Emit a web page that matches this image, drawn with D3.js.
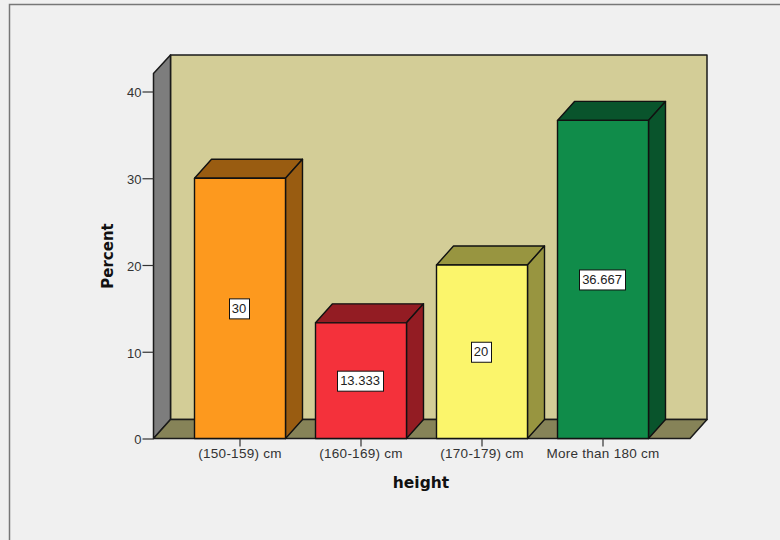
<!DOCTYPE html>
<html>
<head>
<meta charset="utf-8">
<script src="https://cdn.jsdelivr.net/npm/d3@7/dist/d3.min.js"></script>
<style>
html,body{margin:0;padding:0;background:#fff}
svg{display:block}
text{font-family:"Liberation Sans",Arial,sans-serif}
</style>
</head>
<body>
<svg id="chart" width="780" height="540"></svg>
<script>
// Height distribution of respondents, drawn as 3-D bars
const categories = ["(150-159) cm", "(160-169) cm", "(170-179) cm", "More than 180 cm"];
const percents = [30, 13.333, 20, 36.667];
const percentLabels = ["30", "13.333", "20", "36.667"];
const frontColors = ["#FD991E", "#F4313B", "#FBF56B", "#108C4A"];
const sideColors = ["#995C11", "#931C23", "#989540", "#09542C"];
const yTicks = [0, 10, 20, 30, 40];

const depthX = 17, depthY = 19;
const ink = "#1a1a1a";

const svg = d3.select("#chart");
const x = d3.scaleBand().domain(categories).range([179.5, 663.5]).paddingInner(0.248).paddingOuter(0.124);
const y = d3.scaleLinear().domain([0, 40]).range([438.5, 91.5]);

const plotLeft = 153.5, plotRight = 690, plotTop = 73.5, plotBase = y(0);
const poly = pts => pts.map(p => p.join(",")).join(" ");

// Panel background and its frame along the top and left edges
svg.append("rect").attr("width", 780).attr("height", 540).attr("fill", "#F0F0F0");
svg.append("path").attr("d", "M9.5,540V4.5H780").attr("fill", "none").attr("stroke", "#777").attr("stroke-width", 1.5);

// Box: back wall, left wall, floor
const wall = svg.append("g").attr("stroke", ink).attr("stroke-width", 1.5).attr("stroke-linejoin", "round");
wall.append("polygon")
  .attr("points", poly([[plotLeft + depthX, plotTop - depthY + 0.5], [plotRight + depthX, plotTop - depthY + 0.5], [plotRight + depthX, plotBase - depthY], [plotLeft + depthX, plotBase - depthY]]))
  .attr("fill", "#D3CD97");
wall.append("polygon")
  .attr("points", poly([[plotLeft, plotTop], [plotLeft + depthX, plotTop - depthY + 0.5], [plotLeft + depthX, plotBase - depthY], [plotLeft, plotBase]]))
  .attr("fill", "#7D7D7D");
wall.append("polygon")
  .attr("points", poly([[plotLeft, plotBase], [plotLeft + depthX, plotBase - depthY], [plotRight + depthX, plotBase - depthY], [plotRight, plotBase]]))
  .attr("fill", "#868358");

// Bars: top face, side face, front face
const bars = svg.append("g").selectAll("g").data(categories).join("g")
  .attr("stroke", "#111").attr("stroke-width", 1.4).attr("stroke-linejoin", "round");
bars.append("polygon")
  .attr("fill", (d, i) => sideColors[i])
  .attr("points", (d, i) => {
    const x0 = x(d), x1 = x0 + x.bandwidth(), t = y(percents[i]);
    return poly([[x0, t], [x0 + depthX, t - depthY], [x1 + depthX, t - depthY], [x1, t]]);
  });
bars.append("polygon")
  .attr("fill", (d, i) => sideColors[i])
  .attr("points", (d, i) => {
    const x1 = x(d) + x.bandwidth(), t = y(percents[i]);
    return poly([[x1, t], [x1 + depthX, t - depthY], [x1 + depthX, plotBase - depthY], [x1, plotBase]]);
  });
bars.append("rect")
  .attr("x", d => x(d))
  .attr("y", (d, i) => y(percents[i]))
  .attr("width", x.bandwidth())
  .attr("height", (d, i) => plotBase - y(percents[i]))
  .attr("fill", (d, i) => frontColors[i]);

// Value labels in white boxes at mid-height of each bar
const labels = svg.append("g").selectAll("g").data(categories).join("g")
  .attr("transform", (d, i) => `translate(${x(d) + x.bandwidth() / 2 - 1},${y(percents[i] / 2)})`);
labels.append("text")
  .attr("text-anchor", "middle").attr("dy", "0.36em")
  .attr("font-size", 13).attr("fill", "#222")
  .text((d, i) => percentLabels[i]);
labels.insert("rect", "text").each(function () {
  const b = this.parentNode.querySelector("text").getBBox();
  d3.select(this)
    .attr("x", Math.round(b.x - 3) + 0.5)
    .attr("y", -9.5)
    .attr("width", Math.round(b.width + 6))
    .attr("height", 20)
    .attr("fill", "#fff").attr("stroke", "#111").attr("stroke-width", 1);
});

// Axes
const yAxis = svg.append("g").attr("transform", `translate(${plotLeft},0)`)
  .call(d3.axisLeft(y).tickValues(yTicks).tickSize(11).tickPadding(1));
const xAxis = svg.append("g").attr("transform", `translate(0,${plotBase})`)
  .call(d3.axisBottom(x).tickSize(8).tickPadding(2));
[yAxis, xAxis].forEach(a => {
  a.select(".domain").remove();
  a.selectAll("line").attr("stroke", "#333").attr("stroke-width", 1.2);
  a.selectAll("text").attr("font-family", '"Liberation Sans",Arial,sans-serif').attr("fill", "#333");
});
yAxis.selectAll("text").attr("font-size", 13).attr("dy", "0.42em");
xAxis.selectAll("text").attr("font-size", 13.5).attr("letter-spacing", 0.25);

// Axis titles
svg.append("text").attr("x", 421).attr("y", 488).attr("text-anchor", "middle")
  .style("font-family", '"DejaVu Sans",sans-serif').attr("font-weight", "bold").attr("font-size", 15.5).attr("fill", "#111")
  .text("height");
svg.append("text").attr("transform", "translate(113,256) rotate(-90)").attr("text-anchor", "middle")
  .style("font-family", '"DejaVu Sans",sans-serif').attr("font-weight", "bold").attr("font-size", 15).attr("fill", "#111")
  .text("Percent");
</script>
</body>
</html>
